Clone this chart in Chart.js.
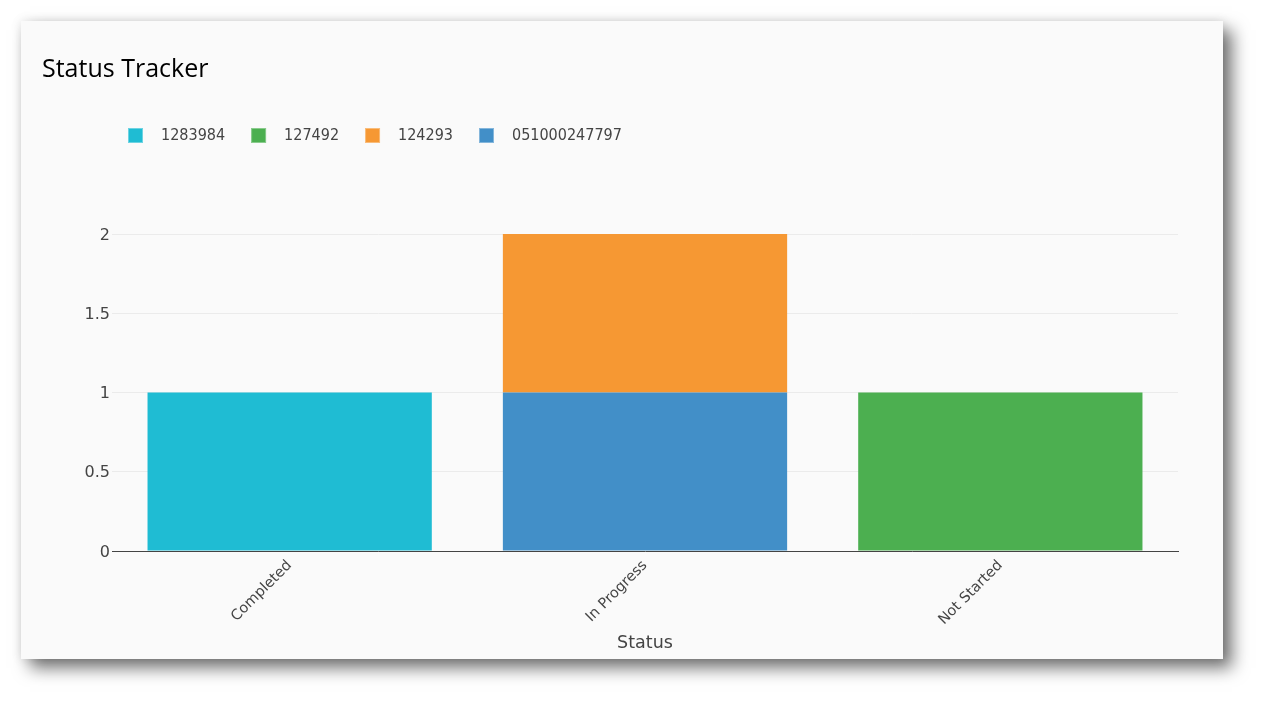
<!DOCTYPE html>
<html>
<head>
<meta charset="utf-8">
<script src="https://cdn.jsdelivr.net/npm/chart.js@4/dist/chart.umd.min.js"></script>
<style>
  html, body { margin: 0; padding: 0; background: #ffffff; width: 1265px; height: 701px; overflow: hidden; }
  #card {
    position: absolute; left: 21px; top: 21px; width: 1202px; height: 638px;
    background: #fafafa;
    box-shadow: 0 0 10px rgba(0,0,0,0.10), 9px 9px 16px rgba(0,0,0,0.55);
  }
  canvas { display: block; }
</style>
</head>
<body>
<div id="card"><canvas id="chart" width="1202" height="638"></canvas></div>
<script>
// ---- data ----
const categories = ['Completed', 'In Progress', 'Not Started'];
const seriesNames = ['1283984', '127492', '124293', '051000247797'];
const seriesColors = ['#1fbcd3', '#4caf50', '#f69833', '#428fc8'];
const values_1283984 = [1, null, null];
const values_127492 = [null, null, 1];
const values_124293 = [null, 1, null];
const values_051000247797 = [null, 1, null];
const yTickValues = [0, 0.5, 1, 1.5, 2];
// stacking order (bottom first) and legend order
const stackOrder = ['1283984', '127492', '051000247797', '124293'];
const legendOrder = ['1283984', '127492', '124293', '051000247797'];

const seriesValues = {
  '1283984': values_1283984,
  '127492': values_127492,
  '124293': values_124293,
  '051000247797': values_051000247797
};

const datasets = stackOrder.map(name => {
  const c = seriesColors[seriesNames.indexOf(name)];
  return {
    label: name,
    data: seriesValues[name],
    backgroundColor: c,
    borderWidth: 0,
    barPercentage: 0.8,
    categoryPercentage: 1.0
  };
});

// legend swatches (square at left of a wider transparent area -> box/text gap)
const SW_W = 25, SW_H = 16, BOX = 15;
function swatch(color) {
  const c = document.createElement('canvas');
  c.width = SW_W; c.height = SW_H;
  const g = c.getContext('2d');
  g.fillStyle = color;
  g.fillRect(0, 0, BOX, BOX);
  g.strokeStyle = 'rgba(255,255,255,0.35)';
  g.lineWidth = 1;
  g.strokeRect(0.5, 0.5, BOX - 1, BOX - 1);
  return c;
}

const LEG_PAD = 26;
const LEG_X = 107, LEG_Y = 107;
const legendPlace = {
  id: 'legendPlace',
  afterLayout(chart) {
    const l = chart.legend;
    if (!l) return;
    const dx = LEG_X - (l.left + LEG_PAD);
    const dy = LEG_Y - (l.top + LEG_PAD);
    l.left += dx; l.right += dx; l.top += dy; l.bottom += dy;
  }
};

const verdanaLike = "'DejaVu Sans', sans-serif";

new Chart(document.getElementById('chart'), {
  type: 'bar',
  data: { labels: categories, datasets },
  plugins: [legendPlace],
  options: {
    responsive: false,
    maintainAspectRatio: false,
    animation: false,
    devicePixelRatio: 1,
    events: [],
    layout: { padding: { left: 21, right: 45, top: 0, bottom: 0 } },
    plugins: {
      tooltip: { enabled: false },
      title: {
        display: true,
        text: 'Status Tracker',
        align: 'start',
        color: '#000000',
        font: { family: "'Open Sans', sans-serif", size: 25, weight: 'normal', lineHeight: 1.2 },
        padding: { top: 34, bottom: 97 }
      },
      legend: {
        display: true,
        position: 'top',
        align: 'start',
        labels: {
          usePointStyle: true,
          pointStyleWidth: SW_W,
          boxHeight: SW_H,
          padding: LEG_PAD,
          color: '#444444',
          font: { family: "'DejaVu Sans Condensed', 'Liberation Sans', sans-serif", size: 16 },
          generateLabels(chart) {
            return legendOrder.map(name => {
              const i = chart.data.datasets.findIndex(d => d.label === name);
              const ds = chart.data.datasets[i];
              return {
                text: name,
                datasetIndex: i,
                pointStyle: swatch(ds.backgroundColor),
                fillStyle: ds.backgroundColor,
                strokeStyle: ds.backgroundColor,
                lineWidth: 0,
                fontColor: '#444444',
                hidden: !chart.isDatasetVisible(i)
              };
            });
          }
        }
      }
    },
    scales: {
      x: {
        stacked: true,
        grid: { display: false, drawTicks: false },
        border: { display: true, color: '#444444', width: 1 },
        ticks: {
          color: '#444444',
          font: { family: verdanaLike, size: 14.5 },
          minRotation: 45,
          maxRotation: 45,
          autoSkip: false,
          padding: 6
        },
        title: {
          display: true,
          text: 'Status',
          color: '#444444',
          font: { family: verdanaLike, size: 17.5, lineHeight: 1.2 },
          padding: { top: 0, bottom: 5 }
        },
        afterFit(scale) { scale.height = 108; }
      },
      y: {
        stacked: true,
        min: 0,
        max: 2,
        grid: { color: '#ebebeb', lineWidth: 1, drawTicks: false },
        border: { display: false },
        ticks: {
          color: '#444444',
          font: { family: verdanaLike, size: 16 },
          padding: 2,
          labelOffset: 1.5,
          callback: v => String(v)
        },
        afterBuildTicks(scale) { scale.ticks = yTickValues.map(v => ({ value: v })); },
        afterFit(scale) { scale.width = 70; }
      }
    }
  }
});
</script>
</body>
</html>
